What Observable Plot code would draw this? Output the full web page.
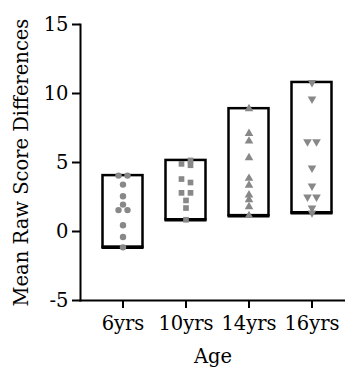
<!DOCTYPE html>
<html>
<head>
<meta charset="utf-8">
<script src="https://cdn.jsdelivr.net/npm/d3@7"></script>
<script src="https://cdn.jsdelivr.net/npm/@observablehq/plot@0.6"></script>
<style>
  html, body { margin: 0; padding: 0; background: white; }
</style>
</head>
<body>
<div id="chart"></div>
<script>
const ages = ["6yrs", "10yrs", "14yrs", "16yrs"];
const v6  = [4.05, 4.05, 3.4, 2.55, 1.95, 1.55, 1.55, 0.45, -0.4, -1.15];
const v10 = [5.15, 4.9, 4.8, 3.8, 3.55, 2.8, 2.8, 2.25, 1.7, 0.85];
const v14 = [8.9, 7.1, 6.55, 5.35, 3.85, 3.35, 2.65, 2.3, 1.8, 1.15];
const v16 = [10.8, 9.6, 6.5, 6.5, 4.6, 3.3, 2.5, 2.5, 1.7, 1.35];
const yTicks = [-5, 0, 5, 10, 15];

const series = [v6, v10, v14, v16];

const triDown = {
  draw(context, size) {
    const sqrt3 = Math.sqrt(3);
    const y = -Math.sqrt(size / (sqrt3 * 3));
    context.moveTo(0, -y * 2);
    context.lineTo(-sqrt3 * y, y);
    context.lineTo(sqrt3 * y, y);
    context.closePath();
  }
};
const symbols = [d3.symbolCircle, d3.symbolSquare, d3.symbolTriangle, triDown];

// side-by-side offsets for near-equal values (simple beeswarm)
function offsets(vals, s) {
  const idx = vals.map((v, i) => i).sort((a, b) => vals[b] - vals[a]);
  const out = new Array(vals.length).fill(0);
  let cluster = [idx[0]];
  const flush = () => {
    if (cluster.length > 1) {
      const start = cluster.length % 2 ? 1 : -1;
      cluster.forEach((j, k) => { out[j] = (k % 2 === 0 ? start : -start) * s; });
    }
  };
  for (let k = 1; k < idx.length; k++) {
    const prev = idx[k - 1], cur = idx[k];
    if (vals[prev] - vals[cur] < 0.3) cluster.push(cur);
    else { flush(); cluster = [cur]; }
  }
  flush();
  return out;
}

const summary = ages.map((a, i) => ({age: a, min: d3.min(series[i]), max: d3.max(series[i])}));

const dotMarks = [];
ages.forEach((a, i) => {
  const vals = series[i];
  const offs = offsets(vals, 4.5);
  const pts = vals.map((v, j) => ({age: a, v, off: offs[j]}));
  for (const o of Array.from(new Set(offs))) {
    dotMarks.push(Plot.dot(pts.filter(p => p.off === o), {
      x: "age", y: "v", symbol: symbols[i], r: 3.2, fill: "#888888", stroke: "none", dx: o
    }));
  }
});

const chart = Plot.plot({
  width: 345,
  height: 367,
  marginLeft: 80,
  marginRight: 0,
  marginTop: 24,
  marginBottom: 67,
  style: {fontFamily: "DejaVu Serif", fontSize: "19px", color: "black", background: "white"},
  x: {domain: ages, range: [90.5, 342.5], padding: 0},
  y: {domain: [-5, 15]},
  marks: [
    Plot.axisY({ticks: yTicks, tickSize: 8, tickPadding: 4, strokeWidth: 2, fontSize: 19.5,
      tickFormat: d => String(d),
      label: "Mean Raw Score Differences", labelAnchor: "center", labelOffset: 66, labelArrow: "none"}),
    Plot.axisX({tickSize: 8, tickPadding: 8, strokeWidth: 2, fontSize: 19.5,
      label: "Age", labelAnchor: "center", labelOffset: 62, labelArrow: "none"}),
    Plot.frame({anchor: "left", strokeWidth: 2}),
    Plot.frame({anchor: "bottom", strokeWidth: 2}),
    Plot.barY(summary, {x: "age", y1: "min", y2: "max", fill: "white", stroke: "black", strokeWidth: 2.5, insetLeft: 11.5, insetRight: 11.5}),
    Plot.tickY(summary, {x: "age", y: "min", stroke: "black", strokeWidth: 3.5, insetLeft: 10.5, insetRight: 10.5}),
    ...dotMarks
  ]
});
document.getElementById("chart").appendChild(chart);
</script>
</body>
</html>
